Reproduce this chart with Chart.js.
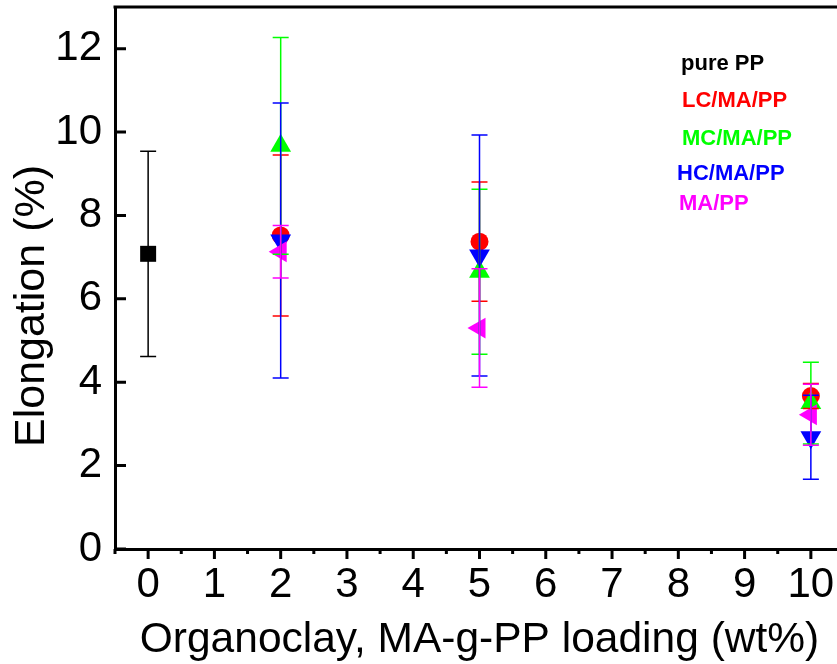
<!DOCTYPE html>
<html>
<head>
<meta charset="utf-8">
<script src="https://cdn.jsdelivr.net/npm/chart.js@4.4.1/dist/chart.umd.min.js"></script>
<style>
  html, body { margin: 0; padding: 0; background: #fff; overflow: hidden; }
  #wrap { width: 850px; height: 664px; }
</style>
</head>
<body>
<div id="wrap"><canvas id="myChart" width="850" height="664"></canvas></div>
<script>
// series names and x positions (wt% loading)
const seriesNames = ['pure PP', 'LC/MA/PP', 'MC/MA/PP', 'HC/MA/PP', 'MA/PP'];
const purePPLoading = [0];
const clayLoadings = [2, 5, 10];

// elongation (%) and error (+/-)
const purePP = [7.08];
const purePPErr = [2.46];
const lcMaPP = [7.52, 7.37, 3.67];
const lcMaPPErr = [1.93, 1.43, 0.30];
const mcMaPP = [9.67, 6.65, 3.50];
const mcMaPPErr = [2.60, 1.98, 0.98];
const hcMaPP = [7.40, 7.04, 2.68];
const hcMaPPErr = [3.30, 2.89, 1.01];
const maPP = [7.13, 5.30, 3.22];
const maPPErr = [0.63, 1.42, 0.73];

const xTickValues = [0, 1, 2, 3, 4, 5, 6, 7, 8, 9, 10];
const yTickValues = [0, 2, 4, 6, 8, 10, 12];

const xTitle = 'Organoclay, MA-g-PP loading (wt%)';
const yTitle = 'Elongation (%)';

const fontFamily = '"Liberation Sans", Arial, sans-serif';

const toPoints = (xs, ys) => xs.map((x, i) => ({ x: x, y: ys[i] }));

const makeSet = (i, xs, ys, errs, color, style, radius, rotation) => ({
    label: seriesNames[i],
    data: toPoints(xs, ys),
    errors: errs,
    backgroundColor: color,
    borderColor: color,
    pointStyle: style,
    pointRadius: radius,
    pointRotation: rotation,
    pointBorderWidth: 0,
    order: seriesNames.length - i
});

const datasets = [
    makeSet(0, purePPLoading, purePP, purePPErr, '#000000', 'rect', 11.3, 0),
    makeSet(1, clayLoadings, lcMaPP, lcMaPPErr, '#ff0000', 'circle', 9, 0),
    makeSet(2, clayLoadings, mcMaPP, mcMaPPErr, '#00ff00', 'triangle', 12, 0),
    makeSet(3, clayLoadings, hcMaPP, hcMaPPErr, '#0000ff', 'triangle', 12, 180),
    makeSet(4, clayLoadings, maPP, maPPErr, '#ff00ff', 'triangle', 12, -90)
];

const errorBars = {
    id: 'errorBars',
    afterDatasetsDraw(chart) {
        const { ctx, scales: { x, y } } = chart;
        ctx.save();
        ctx.lineWidth = 1.5;
        chart.data.datasets.forEach(ds => {
            ctx.strokeStyle = ds.borderColor;
            ds.data.forEach((p, i) => {
                const err = ds.errors[i];
                const px = x.getPixelForValue(p.x);
                const top = y.getPixelForValue(p.y + err);
                const bot = y.getPixelForValue(p.y - err);
                ctx.beginPath();
                ctx.moveTo(px, top);
                ctx.lineTo(px, bot);
                ctx.moveTo(px - 8, top);
                ctx.lineTo(px + 8, top);
                ctx.moveTo(px - 8, bot);
                ctx.lineTo(px + 8, bot);
                ctx.stroke();
            });
        });
        ctx.restore();
    }
};

const frame = {
    id: 'frame',
    afterDraw(chart) {
        const { ctx, chartArea, scales: { x, y } } = chart;
        ctx.save();
        ctx.strokeStyle = '#000';
        ctx.lineWidth = 3;

        // top and right border
        ctx.beginPath();
        ctx.moveTo(chartArea.left - 1.5, chartArea.top);
        ctx.lineTo(chartArea.right, chartArea.top);
        ctx.lineTo(chartArea.right, chartArea.bottom);
        ctx.stroke();

        // y ticks pointing in
        ctx.beginPath();
        yTickValues.forEach(v => {
            const py = y.getPixelForValue(v);
            ctx.moveTo(chartArea.left, py);
            ctx.lineTo(chartArea.left + 11, py);
        });
        // x ticks pointing out, major + minor
        xTickValues.forEach(v => {
            const px = x.getPixelForValue(v);
            ctx.moveTo(px, chartArea.bottom);
            ctx.lineTo(px, chartArea.bottom + 10);
        });
        [-1].concat(xTickValues).forEach(v => {
            const px = x.getPixelForValue(v + 0.5);
            ctx.moveTo(px, chartArea.bottom);
            ctx.lineTo(px, chartArea.bottom + 5);
        });
        ctx.stroke();

        // axis titles
        ctx.fillStyle = '#000';
        ctx.textAlign = 'center';
        ctx.textBaseline = 'alphabetic';
        ctx.font = '42.5px ' + fontFamily;
        ctx.fillText(xTitle, (chartArea.left + chartArea.right) / 2, 652);
        ctx.save();
        ctx.translate(44, 306);
        ctx.rotate(-Math.PI / 2);
        ctx.font = '43px ' + fontFamily;
        ctx.fillText(yTitle, 0, 0);
        ctx.restore();

        // text-only legend
        const lx = [681, 682, 682, 677, 679];
        const ly = [70, 107, 145, 180, 210];
        ctx.textAlign = 'left';
        ctx.font = 'bold 22px ' + fontFamily;
        chart.data.datasets.forEach((ds, i) => {
            ctx.fillStyle = ds.borderColor;
            ctx.fillText(ds.label, lx[i], ly[i]);
        });
        ctx.restore();
    }
};

const ctx = document.getElementById('myChart').getContext('2d');
const myChart = new Chart(ctx, {
    type: 'scatter',
    data: { datasets: datasets },
    options: {
        responsive: false,
        animation: false,
        events: [],
        layout: { autoPadding: false, padding: { top: 7, right: 6, left: 0, bottom: 0 } },
        plugins: {
            legend: { display: false },
            tooltip: { enabled: false }
        },
        scales: {
            x: {
                type: 'linear',
                min: -0.5,
                max: 10.5,
                afterBuildTicks: s => { s.ticks = xTickValues.map(v => ({ value: v })); },
                afterFit: s => {
                    s.height = 115;
                    s.paddingLeft = 0;
                    s.paddingRight = 0;
                },
                grid: { display: false, drawTicks: false },
                border: { display: true, color: '#000', width: 3 },
                ticks: {
                    color: '#000',
                    padding: 11,
                    autoSkip: false,
                    maxRotation: 0,
                    font: { family: fontFamily, size: 42 }
                }
            },
            y: {
                type: 'linear',
                min: 0,
                max: 13,
                afterBuildTicks: s => { s.ticks = yTickValues.map(v => ({ value: v })); },
                afterFit: s => {
                    s.width = 115;
                    s.paddingTop = 0;
                    s.paddingBottom = 0;
                },
                grid: { display: false, drawTicks: false },
                border: { display: true, color: '#000', width: 3 },
                ticks: {
                    color: '#000',
                    padding: 13,
                    font: { family: fontFamily, size: 42 }
                }
            }
        }
    },
    plugins: [errorBars, frame]
});
</script>
</body>
</html>
